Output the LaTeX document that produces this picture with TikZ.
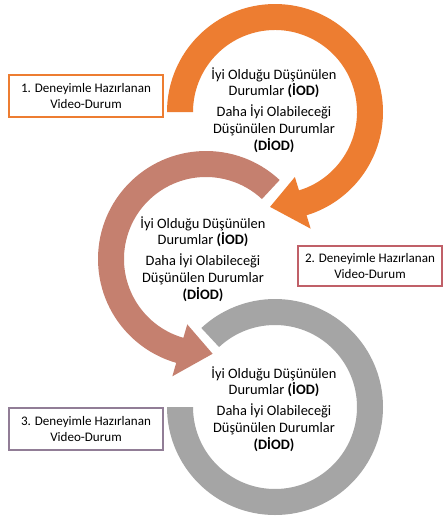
\documentclass[tikz,border=0pt]{standalone}
\usepackage{fontspec}
\setmainfont{Carlito}
\definecolor{orng}{HTML}{ED7D31}
\definecolor{brwn}{RGB}{197,128,111}
\definecolor{gry}{HTML}{A5A5A5}
\definecolor{rose}{RGB}{192,96,104}
\definecolor{lila}{RGB}{145,125,150}
\tikzset{
  ringtext/.style={align=center,inner sep=0pt,text=black,font=\fontsize{10.8}{12.6}\selectfont},
  vbox/.style={draw=#1,line width=1.5pt,fill=white,align=center,inner sep=0pt,
    font=\fontsize{9.8}{11.3}\selectfont,text=black},
}
\newcommand{\ringlabel}{İyi Olduğu Düşünülen\\ Durumlar \textbf{(İOD)}\\[3pt] Daha İyi Olabileceği\\ Düşünülen Durumlar\\ \textbf{(DİOD)}}
\begin{document}
\begin{tikzpicture}[x=0.75pt,y=-0.75pt]
\useasboundingbox (0,0) rectangle (445,519);
\fill[white] (0,0) rectangle (445,519);
% orange ring (clockwise)
\begin{scope}[shift={(275,112)},yscale=-1]
\fill[orng] (180:108) arc[start angle=180,end angle=-73,radius=108]
  -- (-73:122) -- (-93:95) -- (-73:68) -- (-73:82)
  arc[start angle=-73,end angle=180,radius=82] -- cycle;
\end{scope}
% brown ring (counter-clockwise)
\begin{scope}[shift={(206,259)},yscale=-1]
\fill[brwn] (47:108) arc[start angle=47,end angle=254,radius=108]
  -- (254:122) -- (274:95) -- (254:68) -- (254:82)
  arc[start angle=254,end angle=47,radius=82] -- cycle;
\end{scope}
% gray ring
\begin{scope}[shift={(275,407)},yscale=-1]
\fill[gry] (180:108) arc[start angle=180,end angle=493,radius=108]
  -- (493:82) arc[start angle=493,end angle=180,radius=82] -- cycle;
\end{scope}
% texts
\node[ringtext] (t1) at (274,110) {\ringlabel};
\node[ringtext] (t2) at (203,259) {\ringlabel};
\node[ringtext] (t3) at (274,409) {\ringlabel};
% boxes
\node[vbox=orng,minimum width=154*0.75pt,minimum height=42*0.75pt] (b1) at (86,96)
  {1. Deneyimle Hazırlanan\\ Video-Durum};
\node[vbox=rose,minimum width=144*0.75pt,minimum height=40*0.75pt] (b2) at (370,266)
  {2. Deneyimle Hazırlanan\\ Video-Durum};
\node[vbox=lila,minimum width=154*0.75pt,minimum height=42*0.75pt] (b3) at (86,429)
  {3. Deneyimle Hazırlanan\\ Video-Durum};
\end{tikzpicture}
\end{document}
